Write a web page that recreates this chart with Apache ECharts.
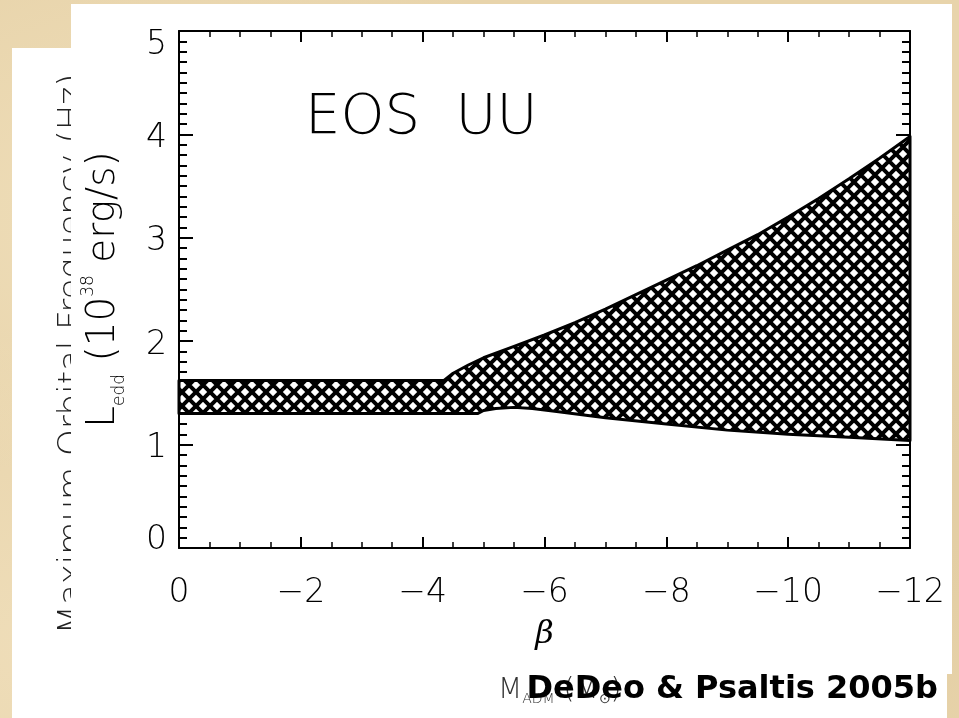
<!DOCTYPE html>
<html>
<head>
<meta charset="utf-8">
<script src="https://cdn.jsdelivr.net/npm/echarts@6/dist/echarts.min.js"></script>
<style>
  html, body { margin: 0; padding: 0; }
  body {
    width: 959px; height: 718px; overflow: hidden;
    background-color: #e8d4ab;
    background-image:
      radial-gradient(ellipse at 20% 30%, rgba(246,232,200,0.55), rgba(246,232,200,0) 40%),
      radial-gradient(ellipse at 80% 70%, rgba(214,190,145,0.45), rgba(214,190,145,0) 45%),
      radial-gradient(ellipse at 5% 90%, rgba(245,230,198,0.5), rgba(245,230,198,0) 35%);
  }
  #chart { position: absolute; left: 0; top: 0; width: 959px; height: 718px; }
</style>
</head>
<body>
<div id="chart"></div>
<script>
// Eddington luminosity band vs. beta (EOS UU)
const upperBeta = [0, -4.35, -4.5, -4.75, -5.0, -5.5, -6.0, -6.5, -7.0, -7.5, -8.0, -8.5, -9.0, -9.5, -10.0, -10.5, -11.0, -11.5, -12.0];
const upperLedd = [1.62, 1.62, 1.69, 1.77, 1.84, 1.95, 2.06, 2.18, 2.31, 2.45, 2.59, 2.73, 2.88, 3.03, 3.20, 3.38, 3.57, 3.77, 3.98];
const lowerBeta = [0, -4.9, -5.0, -5.2, -5.5, -5.8, -6.2, -7.0, -8.0, -9.0, -10.0, -11.0, -12.0];
const lowerLedd = [1.30, 1.30, 1.33, 1.35, 1.36, 1.35, 1.32, 1.26, 1.20, 1.14, 1.10, 1.07, 1.04];
const xTicks = [0, -2, -4, -6, -8, -10, -12];
const yTicks = [0, 1, 2, 3, 4, 5];

const idlFont = '"DejaVu Sans ExtraLight", "DejaVu Sans", sans-serif';

// cross-hatch fill tile
function hatchTile() {
  const p = 14;
  const c = document.createElement('canvas');
  c.width = p; c.height = p;
  const ctx = c.getContext('2d');
  ctx.fillStyle = '#fff';
  ctx.fillRect(0, 0, p, p);
  ctx.strokeStyle = '#000';
  ctx.lineWidth = 4;
  for (let k = -1; k <= 1; k++) {
    ctx.beginPath();
    ctx.moveTo(k * p, 0); ctx.lineTo(k * p + p, p);
    ctx.moveTo(k * p, p); ctx.lineTo(k * p + p, 0);
    ctx.stroke();
  }
  return c;
}

const chart = echarts.init(document.getElementById('chart'), null, { renderer: 'canvas' });

const xMinus = v => (v === 0 ? '0' : '\u2212' + Math.abs(v));

function xAxisDef(pos, withLabels) {
  return {
    type: 'value', position: pos, min: xTicks[xTicks.length - 1], max: xTicks[0], interval: 2, inverse: true,
    axisLine: { show: true, onZero: false, lineStyle: { color: '#000', width: 2 } },
    axisTick: { show: true, inside: true, length: 11, lineStyle: { color: '#000', width: 2 } },
    minorTick: { show: true, splitNumber: 4, length: 6, lineStyle: { color: '#000', width: 1.5 } },
    splitLine: { show: false },
    axisLabel: {
      show: withLabels, margin: 29, color: '#000', fontSize: 33, fontFamily: idlFont, fontWeight: 200,
      formatter: xMinus
    },
    name: withLabels ? 'β' : '',
    nameLocation: 'middle', nameGap: 71,
    nameTextStyle: { color: '#000', fontSize: 32, fontStyle: 'italic', fontFamily: '"DejaVu Serif", serif' }
  };
}

function yAxisDef(pos, withLabels) {
  return {
    type: 'value', position: pos, min: yTicks[0], max: yTicks[yTicks.length - 1], interval: 1,
    axisLine: { show: true, onZero: false, lineStyle: { color: '#000', width: 2 } },
    axisTick: { show: true, inside: true, length: 14, lineStyle: { color: '#000', width: 2 } },
    minorTick: { show: true, splitNumber: 10, length: 8, lineStyle: { color: '#000', width: 2 } },
    splitLine: { show: false },
    axisLabel: {
      show: withLabels, margin: 12, color: '#000', fontSize: 33, fontFamily: idlFont, fontWeight: 200,
      formatter: v => (v === yTicks[yTicks.length - 1] ? '{hi|' + v + '}' : v === yTicks[0] ? '{lo|' + v + '}' : '{n|' + v + '}'),
      rich: {
        n: { fontSize: 33, fontFamily: idlFont, fontWeight: 200, padding: [8, 0, 0, 0] },
        hi: { fontSize: 33, fontFamily: idlFont, fontWeight: 200, padding: [28, 0, 0, 0] },
        lo: { fontSize: 33, fontFamily: idlFont, fontWeight: 200, padding: [0, 0, 16, 0] }
      }
    },
    name: withLabels ? '{a|L}{sub|edd}{a| (10}{sup|38}{a| erg/s)}' : '',
    nameLocation: 'middle', nameGap: 51,
    nameTextStyle: {
      color: '#000',
      rich: {
        a: { fontSize: 39, fontFamily: idlFont, fontWeight: 200, lineHeight: 48, color: '#000' },
        sub: { fontSize: 17, fontFamily: idlFont, fontWeight: 200, lineHeight: 17, verticalAlign: 'bottom', color: '#000' },
        sup: { fontSize: 17, fontFamily: idlFont, fontWeight: 200, lineHeight: 17, verticalAlign: 'top', color: '#000' }
      }
    }
  };
}

const hatch = { image: hatchTile(), repeat: 'repeat' };

chart.setOption({
  backgroundColor: 'transparent',
  animation: false,
  grid: { left: 179, right: 49, top: 31, bottom: 170, containLabel: false, outerBoundsMode: 'none' },
  xAxis: [xAxisDef('bottom', true), xAxisDef('top', false)],
  yAxis: [yAxisDef('left', true), yAxisDef('right', false)],
  graphic: {
    elements: [
      { type: 'rect', z: -10, shape: { x: 12, y: 48, width: 935, height: 670 }, style: { fill: '#fff' } },
      {
        type: 'text', z: -9, x: 56, y: 354, rotation: Math.PI / 2,
        style: {
          text: 'Maximum Orbital Frequency (Hz)', fontSize: 34, fontFamily: idlFont, fontWeight: 200,
          fill: '#222', align: 'center', verticalAlign: 'top'
        }
      },
      {
        type: 'text', z: -9, x: 498, y: 676,
        style: {
          text: '{m|M}{s|ADM}{m| (M}{s|⊙}{m|)}', align: 'left', verticalAlign: 'top',
          rich: {
            m: { fontSize: 28, fontFamily: idlFont, fontWeight: 200, fill: '#333', lineHeight: 30 },
            s: { fontSize: 14, fontFamily: idlFont, fontWeight: 200, fill: '#333', lineHeight: 14, verticalAlign: 'bottom' }
          }
        }
      },
      { type: 'rect', z: -8, shape: { x: 71, y: 4, width: 881, height: 670 }, style: { fill: '#fff' } },
      {
        type: 'text', z: 5, x: 305, y: 118,
        style: { text: 'EOS  UU', fontSize: 56, fontFamily: idlFont, fontWeight: 200, fill: '#000', align: 'left', verticalAlign: 'middle' }
      },
      {
        type: 'text', z: 100, x: 938, y: 690,
        style: {
          text: 'DeDeo & Psaltis 2005b', fontSize: 32, fontFamily: '"DejaVu Sans", sans-serif', fontWeight: 'bold',
          fill: '#000', align: 'right', verticalAlign: 'middle'
        }
      }
    ]
  },
  series: [{
    type: 'custom',
    name: 'Ledd band',
    coordinateSystem: 'cartesian2d',
    xAxisIndex: 0, yAxisIndex: 0,
    data: [[0, 0]],
    renderItem: function (params, api) {
      const pts = [];
      for (let i = 0; i < upperBeta.length; i++) pts.push(api.coord([upperBeta[i], upperLedd[i]]));
      for (let i = lowerBeta.length - 1; i >= 0; i--) pts.push(api.coord([lowerBeta[i], lowerLedd[i]]));
      return {
        type: 'polygon',
        shape: { points: pts },
        style: { fill: hatch, stroke: '#000', lineWidth: 3, lineJoin: 'round' }
      };
    },
    z: 1
  }]
});
</script>
</body>
</html>
